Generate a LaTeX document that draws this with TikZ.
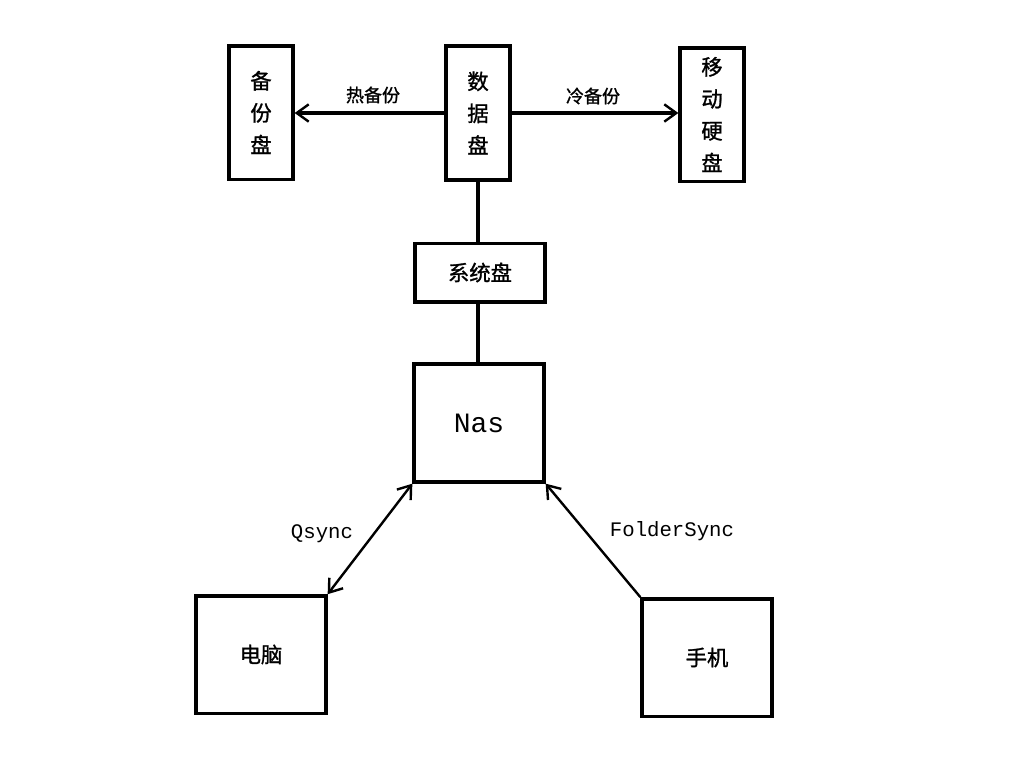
\documentclass[tikz,border=0pt]{standalone}
\usepackage{fontspec}
\newfontfamily\cjk{Noto Sans CJK SC}[FakeBold=1.2]
\setmonofont{Liberation Mono}
\usetikzlibrary{arrows.meta}
\begin{document}
\begin{tikzpicture}[x=0.75pt,y=-0.75pt,
  box/.style={draw,line width=2.5pt,inner sep=0pt,font=\cjk\fontsize{16}{24}\selectfont,align=center},
  conn/.style={line width=2.4pt},
  diag/.style={line width=1.8pt},
  barb/.style={-{Straight Barb[length=9pt,width=13pt,line width=1.8pt]}},
  dbarb/.style={{Straight Barb[length=9pt,width=13pt,line width=1.8pt]}-{Straight Barb[length=9pt,width=13pt,line width=1.8pt]}},
  lab/.style={font=\cjk\fontsize{13.5}{15}\selectfont,inner sep=0pt},
  latlab/.style={font=\ttfamily\fontsize{15.5}{18}\selectfont,inner sep=0pt}]
\useasboundingbox (0,0) rectangle (1024,768);
\fill[white] (0,0) rectangle (1024,768);
\node[box,minimum width=48pt,minimum height=100pt] (backup) at (261,112.5) {备\\份\\盘};
\node[box,minimum width=48pt,minimum height=100.5pt] (data) at (478,113) {数\\据\\盘};
\node[box,minimum width=48pt,minimum height=100pt] (mobile) at (712,114.5) {移\\动\\硬\\盘};
\node[box,minimum width=97.5pt,minimum height=44pt] (sys) at (480,272.5) {系统盘};
\node[box,minimum width=97.5pt,minimum height=88.5pt,font=\ttfamily\fontsize{21}{24}\selectfont] (nas) at (479,423) {Nas};
\node[box,minimum width=97.5pt,minimum height=88pt] (pc) at (261,654.5) {电脑};
\node[box,minimum width=97.5pt,minimum height=88pt] (phone) at (707,657.5) {手机};
\draw[conn,barb] (data.west) -- (data.west -| backup.east);
\draw[conn,barb] (data.east) -- (data.east -| mobile.west);
\draw[conn] (data.south -| 478,0) -- (sys.north -| 478,0);
\draw[conn] (sys.south -| 478,0) -- (nas.north -| 478,0);
\draw[diag,dbarb] (nas.south west) -- (pc.north east);
\draw[diag,barb] (phone.north west) -- (nas.south east);
\node[lab] (hot) at (373,95) {热备份};
\node[lab] (cold) at (593,96) {冷备份};
\node[latlab] (qs) at (322,534) {Qsync};
\node[latlab] (fs) at (672,531) {FolderSync};
\end{tikzpicture}
\end{document}
